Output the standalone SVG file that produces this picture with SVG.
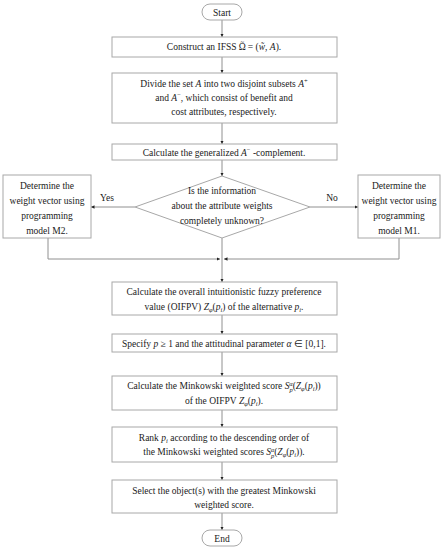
<svg xmlns="http://www.w3.org/2000/svg" width="444" height="550" viewBox="0 0 444 550">
<defs>
<marker id="ah" viewBox="0 0 6 6" refX="6" refY="3" markerWidth="3.5" markerHeight="3.5" orient="auto" markerUnits="userSpaceOnUse">
<path d="M0,0 L6,3 L0,6 z" fill="#222"/>
</marker>
<style>
.box{fill:#fff;stroke:#a8a8a8;stroke-width:1}
.ln{fill:none;stroke:#909090;stroke-width:1}
.t{font-family:"Liberation Serif","Times New Roman",serif;font-size:9.5px;fill:#1a1a1a;text-anchor:middle}
.i{font-style:italic}
.s{font-size:6.5px}
</style>
</defs>
<rect width="444" height="550" fill="#fff"/>
<g id="connectors">
<line class="ln" x1="222" y1="20" x2="222" y2="37" marker-end="url(#ah)"/>
<line class="ln" x1="222" y1="57" x2="222" y2="73" marker-end="url(#ah)"/>
<line class="ln" x1="222" y1="123" x2="222" y2="144" marker-end="url(#ah)"/>
<line class="ln" x1="222" y1="160" x2="222" y2="176" marker-end="url(#ah)"/>
<line class="ln" x1="135" y1="207" x2="91" y2="207" marker-end="url(#ah)"/>
<line class="ln" x1="310" y1="207" x2="358" y2="207" marker-end="url(#ah)"/>
<polyline class="ln" points="48,238 48,259 220,259" marker-end="url(#ah)"/>
<polyline class="ln" points="399,238 399,259 224,259" marker-end="url(#ah)"/>
<line class="ln" x1="222" y1="238" x2="222" y2="259"/>
<line class="ln" x1="222" y1="259" x2="222" y2="282" marker-end="url(#ah)"/>
<line class="ln" x1="222" y1="315" x2="222" y2="334" marker-end="url(#ah)"/>
<line class="ln" x1="222" y1="352" x2="222" y2="376" marker-end="url(#ah)"/>
<line class="ln" x1="222" y1="410" x2="222" y2="427" marker-end="url(#ah)"/>
<line class="ln" x1="222" y1="462" x2="222" y2="480" marker-end="url(#ah)"/>
<line class="ln" x1="222" y1="513" x2="222" y2="530" marker-end="url(#ah)"/>
<text class="t" x="107" y="201">Yes</text>
<text class="t" x="332" y="201">No</text>
</g>
<g id="start">
<rect class="box" x="202" y="4" width="40" height="16" rx="8"/>
<text class="t" x="222" y="15.5">Start</text>
</g>
<g id="construct">
<rect class="box" x="112" y="37" width="225" height="20"/>
<text class="t" x="224" y="50">Construct an IFSS Ω<tspan dx="-5.5" dy="-6.5" class="s">~</tspan><tspan dx="1.5" dy="6.5"> = (</tspan><tspan class="i">w̃</tspan>, <tspan class="i">A</tspan>).</text>
</g>
<g id="divide">
<rect class="box" x="112" y="73" width="225" height="50"/>
<text class="t" x="224" y="87">Divide the set <tspan class="i">A</tspan> into two disjoint subsets <tspan class="i">A</tspan><tspan class="s" dy="-4">+</tspan></text>
<text class="t" x="224" y="101">and <tspan class="i">A</tspan><tspan class="s" dy="-4">−</tspan><tspan dy="4">, which consist of benefit and</tspan></text>
<text class="t" x="224" y="115">cost attributes, respectively.</text>
</g>
<g id="complement">
<rect class="box" x="112" y="144" width="225" height="16"/>
<text class="t" x="224" y="155.5">Calculate the generalized <tspan class="i">A</tspan><tspan class="s" dy="-4">−</tspan><tspan dy="4"> -complement.</tspan></text>
</g>
<g id="decision">
<polygon class="box" points="222,176 310,207 222,238 135,207"/>
<text class="t" x="222" y="194">Is the information</text>
<text class="t" x="222" y="209">about the attribute weights</text>
<text class="t" x="222" y="224">completely unknown?</text>
</g>
<g id="m2">
<rect class="box" x="3" y="175" width="88" height="63"/>
<text class="t" x="47" y="189">Determine the</text>
<text class="t" x="47" y="204">weight vector using</text>
<text class="t" x="47" y="219">programming</text>
<text class="t" x="47" y="234">model M2.</text>
</g>
<g id="m1">
<rect class="box" x="358" y="175" width="82" height="63"/>
<text class="t" x="399" y="189">Determine the</text>
<text class="t" x="399" y="204">weight vector using</text>
<text class="t" x="399" y="219">programming</text>
<text class="t" x="399" y="234">model M1.</text>
</g>
<g id="oifpv">
<rect class="box" x="112" y="282" width="225" height="33"/>
<text class="t" x="224" y="295">Calculate the overall intuitionistic fuzzy preference</text>
<text class="t" x="224" y="310">value (OIFPV) <tspan class="i">Z</tspan><tspan class="s i" dy="2">φ</tspan><tspan dy="-2">(</tspan><tspan class="i">p</tspan><tspan class="s i" dy="2">i</tspan><tspan dy="-2">) of the alternative </tspan><tspan class="i">p</tspan><tspan class="s i" dy="2">i</tspan><tspan dy="-2">.</tspan></text>
</g>
<g id="specify">
<rect class="box" x="112" y="334" width="225" height="18"/>
<text class="t" x="224" y="346.5">Specify <tspan class="i">p</tspan> ≥ 1 and the attitudinal parameter <tspan class="i">α</tspan> ∈ [0,1].</text>
</g>
<g id="score">
<rect class="box" x="112" y="376" width="225" height="34"/>
<text class="t" x="224" y="389">Calculate the Minkowski weighted score <tspan class="i">S</tspan><tspan class="s i" dy="2.5">p</tspan><tspan class="s i" dx="-3.5" dy="-6">α</tspan><tspan dy="3.5">(</tspan><tspan class="i">Z</tspan><tspan class="s i" dy="2">φ</tspan><tspan dy="-2">(</tspan><tspan class="i">p</tspan><tspan class="s i" dy="2">i</tspan><tspan dy="-2">))</tspan></text>
<text class="t" x="224" y="404">of the OIFPV <tspan class="i">Z</tspan><tspan class="s i" dy="2">φ</tspan><tspan dy="-2">(</tspan><tspan class="i">p</tspan><tspan class="s i" dy="2">i</tspan><tspan dy="-2">).</tspan></text>
</g>
<g id="rank">
<rect class="box" x="112" y="427" width="225" height="35"/>
<text class="t" x="224" y="441">Rank <tspan class="i">p</tspan><tspan class="s i" dy="2">i</tspan><tspan dy="-2"> according to the descending order of</tspan></text>
<text class="t" x="224" y="455">the Minkowski weighted scores <tspan class="i">S</tspan><tspan class="s i" dy="2.5">p</tspan><tspan class="s i" dx="-3.5" dy="-6">α</tspan><tspan dy="3.5">(</tspan><tspan class="i">Z</tspan><tspan class="s i" dy="2">φ</tspan><tspan dy="-2">(</tspan><tspan class="i">p</tspan><tspan class="s i" dy="2">i</tspan><tspan dy="-2">)).</tspan></text>
</g>
<g id="select">
<rect class="box" x="112" y="480" width="225" height="33"/>
<text class="t" x="224" y="494">Select the object(s) with the greatest Minkowski</text>
<text class="t" x="224" y="508">weighted score.</text>
</g>
<g id="end">
<rect class="box" x="202" y="530" width="40" height="16" rx="8"/>
<text class="t" x="222" y="541.5">End</text>
</g>
</svg>
